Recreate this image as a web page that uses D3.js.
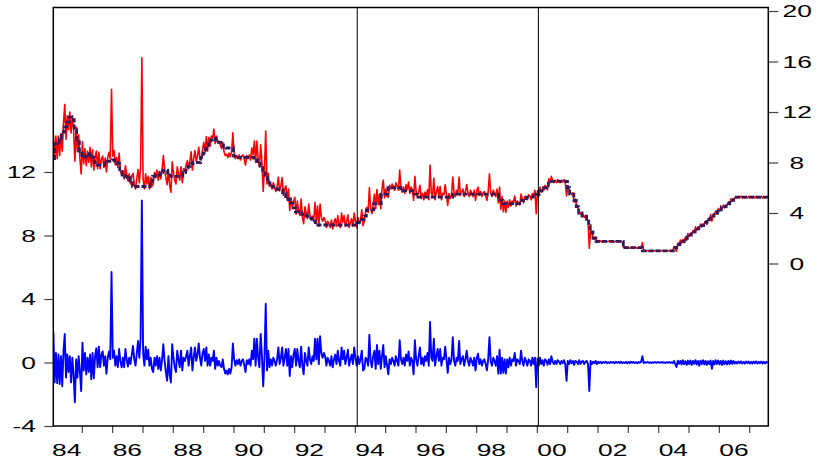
<!DOCTYPE html>
<html><head><meta charset="utf-8">
<script src="https://cdn.jsdelivr.net/npm/d3@7"></script>
<style>html,body{margin:0;padding:0;background:#fff;} svg{display:block;}</style>
</head><body>
<svg id="c" width="817" height="466"></svg>
<script>
// ---------- DATA ----------
// Residual (left axis), half-monthly observations starting 1984 (2nd half of Jan)
const resid = [
/*1984*/ 1.9,-1.25,0.6,-1.3,0.5,-1.35,0.4,-1.5,0.7,1.8,-0.95,0.5,-0.6,0.4,-1.25,0.3,-0.8,-2.5,0.2,-0.95,0.4,-0.6,-1.8,
/*1985*/ 1.25,-0.5,0.6,-0.75,0.3,-0.6,0.5,-1.05,0.6,-1.0,0.4,0.9,-0.3,1.0,-0.3,0.5,0.7,-0.2,0.4,-0.7,0.3,0.7,0.2,5.7,
/*1986*/ 0.3,0.75,-0.2,0.4,-0.3,0.85,0.1,-0.3,0.3,-0.3,0.85,0.2,-0.25,0.3,-0.1,0.5,1.05,0.2,-0.2,0.6,1.35,0.3,1.45,10.2,
/*1987*/ 0.6,-0.2,1.0,0.2,0.8,-0.2,0.3,-0.4,-0.6,0.3,-0.2,0.4,-0.4,0.3,-0.5,0.2,1.15,0.1,-0.6,-1.15,0.4,-0.8,-1.26,1.15,
/*1988*/ 0.3,-0.3,-0.6,0.75,0.2,-0.3,0.75,-0.5,0.3,0.1,0.4,0.75,-0.2,0.4,0.95,-0.5,0.3,0.95,0.1,0.5,1.2,0.3,-0.2,0.6,
/*1989*/ 0.85,0.1,0.95,-0.2,0.5,-0.2,0.3,0.1,0.75,-0.4,0.3,-0.2,0.1,-0.2,-0.3,0.2,-0.4,-0.7,-0.5,-0.75,-0.4,-0.7,-0.3,1.2,
/*1990*/ 0.2,-0.2,0.15,-0.1,0.2,-0.2,0.1,0.2,-0.15,-0.6,0.15,-0.1,0.2,-0.2,0.75,0.2,1.5,-0.2,1.5,0.3,-0.3,1.8,0.4,-1.5,
/*1991*/ 0.3,3.7,-0.5,0.75,-0.3,0.2,-0.2,0.3,0.1,-0.2,0.2,0.95,-0.1,0.3,0.95,-0.2,0.3,0.85,-0.2,0.85,-0.85,0.4,-0.3,0.5,
/*1992*/ 0.85,-0.2,0.85,0.1,-0.3,1.0,-0.2,-0.75,0.6,0.1,-0.2,0.95,0.2,-0.1,0.4,0.1,1.5,0.2,1.5,-0.1,1.65,0.6,0.3,0.6,
/*1993*/ 0.4,-0.2,0.3,0.1,-0.2,0.4,-0.3,0.2,0.5,-0.1,0.75,0.1,-0.2,0.95,0.2,0.75,-0.1,0.3,0.8,-0.2,0.2,0.5,-0.1,0.95,
/*1994*/ 0.3,-0.2,0.4,-0.1,0.2,0.75,-0.5,-0.4,0.3,0.2,-0.2,1.75,0.1,-0.3,0.4,0.75,-0.4,1.1,-0.1,0.75,-0.4,0.4,1.1,-0.3,
/*1995*/ 0.4,-0.2,-0.75,0.2,-0.1,0.3,0.1,-0.2,0.4,0.1,-0.2,1.4,0.2,-0.1,0.3,-0.2,0.5,0.1,0.7,-0.2,0.3,0.1,-0.75,1.4,
/*1996*/ 0.2,-0.2,0.4,0.95,-0.1,0.3,-0.2,0.4,0.1,0.6,-0.2,2.55,0.3,0.1,1.5,-0.2,0.4,0.85,0.1,0.85,-0.2,0.3,0.2,1.0,
/*1997*/ 0.2,-0.65,0.3,-0.1,0.2,1.6,0.1,-0.2,0.3,0.1,1.35,-0.1,0.2,0.4,-0.2,0.2,0.75,0.1,-0.2,0.3,0.1,-0.2,0.3,-0.5,
/*1998*/ 0.3,0.55,-0.1,0.2,-0.2,0.1,0.2,-0.1,-0.5,0.2,1.6,0.1,-0.2,0.3,0.1,-0.2,0.4,-0.7,0.8,-0.7,0.3,-0.65,0.2,-0.7,
/*1999*/ 0.2,-0.3,0.3,-0.2,0.2,0.1,0.6,-0.2,0.2,0.1,-0.1,0.75,0.1,-0.2,0.3,0.1,-0.2,0.2,0.1,-0.2,0.3,-0.1,0.3,-1.55,
/*2000*/ 0.25,-0.2,0.3,-0.1,0.15,-0.2,0.2,0.1,-0.15,0.2,-0.1,0.4,0.05,-0.1,0.1,-0.1,0.15,0.05,-0.1,0.1,-0.05,0.15,-0.1,-1.15,
/*2001*/ 0.1,-0.1,0.15,-0.05,0.1,-0.15,0.1,0.05,-0.1,0.15,-0.1,0.05,0.1,-0.1,0.05,0.1,-0.1,-1.8,0.1,-0.1,0.05,-0.05,0.1,-0.1,
/*2002*/ 0.05,-0.03,0.04,-0.05,0.03,-0.02,0.05,-0.04,0.02,-0.03,0.04,-0.02,0.03,-0.05,0.04,-0.02,0.03,-0.03,0.05,-0.04,0.02,-0.03,0.04,-0.05,
/*2003*/ 0.03,-0.04,0.05,-0.02,0.04,-0.03,0.02,-0.05,0.03,-0.02,0.05,0.4,-0.03,0.02,-0.02,0.03,-0.02,0.02,-0.03,0.02,-0.02,0.03,-0.02,0.02,
/*2004*/ 0.02,-0.02,0.03,-0.02,0.02,-0.03,0.02,-0.02,0.03,-0.02,0.02,-0.03,0.1,-0.1,-0.28,0.12,-0.08,0.1,-0.12,0.15,-0.1,0.08,-0.15,0.12,
/*2005*/ -0.1,0.12,-0.15,0.1,-0.08,0.15,-0.12,0.1,-0.2,0.12,-0.1,0.15,-0.12,0.1,-0.15,0.08,-0.1,0.12,-0.4,0.1,-0.12,0.15,-0.1,0.12,
/*2006*/ -0.12,0.1,-0.15,0.12,-0.1,0.08,-0.12,0.1,-0.1,0.12,-0.08,0.1,-0.06,0.05,-0.07,0.06,-0.05,0.07,-0.06,0.05,-0.07,0.06,-0.05,0.06,
/*2007*/ -0.06,0.05,-0.07,0.06,-0.05,0.07,-0.06,0.05,-0.05,0.06,-0.07,0.05,-0.06,0.05,-0.04
];
const firstPeriod = 1984;      // year of first observation
const periodsPerYear = 24;     // half-monthly
const firstOffset = 1.5;       // first obs is the 2nd half-month of Jan 1984

// Fitted (target) level, right axis: change dates (fractional years) and values
const targetDates = [
 1984.06,1984.10,1984.17,1984.25,1984.33,1984.42,1984.50,1984.58,1984.67,1984.75,1984.83,1984.92,
 1985.00,1985.08,1985.17,1985.25,1985.33,1985.42,1985.50,1985.75,1985.83,
 1986.00,1986.08,1986.17,1986.25,1986.33,1986.42,1986.50,1986.58,1986.67,
 1987.25,1987.33,1987.42,1987.58,1987.67,1987.83,1987.92,
 1988.33,1988.42,1988.50,1988.58,1988.67,1988.92,
 1989.00,1989.08,1989.17,1989.25,1989.33,1989.42,1989.50,1989.58,1989.67,1989.75,
 1990.00,1990.10,1990.67,1990.79,1990.88,1990.96,
 1991.04,1991.12,1991.20,1991.33,1991.50,1991.62,1991.72,1991.80,1991.88,1991.96,
 1992.04,1992.25,1992.40,1992.50,1992.58,1992.70,
 1994.09,1994.22,1994.30,1994.38,1994.62,1994.87,
 1995.09,1995.52,1995.96,1996.08,1997.23,
 1998.74,1998.79,1998.88,1999.50,1999.65,1999.88,
 2000.08,2000.22,2000.38,
 2001.01,2001.08,2001.22,2001.30,2001.38,2001.49,2001.64,2001.71,2001.76,2001.85,2001.95,
 2002.85,2003.48,
 2004.50,2004.61,2004.72,2004.86,2004.96,
 2005.09,2005.22,2005.34,2005.50,2005.61,2005.72,2005.84,2005.96,
 2006.08,2006.24,2006.36,2006.49
];
const targetValues = [
 8.3,9.5,9.6,9.9,10.4,10.8,11.2,11.6,11.4,10.6,9.8,8.9,
 8.4,8.5,8.6,8.7,8.4,8.0,7.8,7.95,8.1,
 8.2,8.0,7.9,7.3,7.0,6.9,6.8,6.4,6.1,
 6.5,6.9,7.0,7.2,7.4,7.0,6.9,
 7.2,7.4,7.7,7.9,8.0,8.4,
 8.75,9.1,9.5,9.8,9.9,9.8,9.6,9.4,9.25,9.15,
 8.5,8.4,8.2,7.95,7.6,7.2,
 6.8,6.4,6.1,5.9,5.85,5.6,5.3,5.05,4.8,4.4,
 4.1,3.9,3.75,3.6,3.35,3.05,
 3.25,3.5,3.75,4.25,4.75,5.5,
 6.0,5.75,5.5,5.25,5.5,
 5.25,5.0,4.75,5.0,5.25,5.5,
 5.75,6.0,6.5,
 6.0,5.5,5.0,4.5,4.0,3.75,3.5,3.0,2.5,2.0,1.75,
 1.25,1.0,
 1.25,1.5,1.75,2.0,2.25,
 2.5,2.75,3.0,3.25,3.5,3.75,4.0,4.25,
 4.5,4.75,5.0,5.25
];
const sampleStart = 1984.06, sampleEnd = 2007.63;
const breakDates = [1994.08, 2000.05];
const leftTicks = [-4, 0, 4, 8, 12];
const rightTicks = [0, 4, 8, 12, 16, 20];
const yearTicks = d3.range(1985, 2008);
const yearLabels = ["84","86","88","90","92","94","96","98","00","02","04","06"];
const yearLabelPos = [1984.5,1986.5,1988.5,1990.5,1992.5,1994.5,1996.5,1998.5,2000.5,2002.5,2004.5,2006.5];

// ---------- LAYOUT ----------
const P = {l: 53.3, r: 768.3, t: 7.5, b: 426};
const SX = 1.6;              // horizontal stretch of the text
const FONT = "'Liberation Sans', Arial, sans-serif";
const svg = d3.select("#c");

const x = d3.scaleLinear().domain([sampleStart, sampleEnd]).range([P.l, P.r]);
const yL = d3.scaleLinear().domain([-4, 12]).range([426, 172]);
const yR = d3.scaleLinear().domain([0, 20]).range([263.5, 11]);

const dates = resid.map((_, i) => firstPeriod + (i + firstOffset) / periodsPerYear);
const bis = d3.bisector(d => d).right;
const fittedAt = t => targetValues[Math.max(0, bis(targetDates, t) - 1)];
const actual = dates.map((t, i) => fittedAt(t) + resid[i]);

svg.append("defs").append("clipPath").attr("id", "pc")
  .append("rect").attr("x", P.l).attr("y", P.t).attr("width", P.r - P.l).attr("height", P.b - P.t);
const g = svg.append("g").attr("clip-path", "url(#pc)");

// residual (blue)
g.append("path")
  .attr("d", d3.line().x((d, i) => x(dates[i])).y(d => yL(d))(resid))
  .attr("fill", "none").attr("stroke", "#0000ff").attr("stroke-width", 1.9)
  .attr("stroke-linejoin", "round");

// actual (red)
g.append("path")
  .attr("d", d3.line().x((d, i) => x(dates[i])).y(d => yR(d))(actual))
  .attr("fill", "none").attr("stroke", "#ff0000").attr("stroke-width", 1.6)
  .attr("stroke-linejoin", "round");

// fitted (dashed, step)
const fitPts = targetDates.map((d, j) => [d, targetValues[j]]);
fitPts.push([sampleEnd, targetValues[targetValues.length - 1]]);
g.append("path")
  .attr("d", d3.line().curve(d3.curveStepAfter).x(d => x(d[0])).y(d => yR(d[1]))(fitPts))
  .attr("fill", "none").attr("stroke", "#331a5a").attr("stroke-width", 2.8)
  .attr("stroke-dasharray", "5,2");

// break lines
svg.selectAll("line.brk").data(breakDates).join("line").attr("class", "brk")
  .attr("x1", d => x(d)).attr("x2", d => x(d)).attr("y1", P.t).attr("y2", P.b)
  .attr("stroke", "#000").attr("stroke-width", 1);

// axes ticks
const axL = d3.axisLeft(yL).tickValues(leftTicks).tickSize(9).tickFormat("");
const axR = d3.axisRight(yR).tickValues(rightTicks).tickSize(10).tickFormat("");
const axB = d3.axisBottom(x).tickValues(yearTicks).tickSize(7).tickFormat("");
function styleAx(sel) { sel.select(".domain").remove(); sel.selectAll(".tick line").attr("stroke", "#444").attr("stroke-width", 1.2); }
svg.append("g").attr("transform", `translate(${P.l},0)`).call(axL).call(styleAx);
svg.append("g").attr("transform", `translate(${P.r},0)`).call(axR).call(styleAx);
svg.append("g").attr("transform", `translate(0,${P.b})`).call(axB).call(styleAx);

// frame
svg.append("rect").attr("x", P.l).attr("y", P.t).attr("width", P.r - P.l).attr("height", P.b - P.t)
  .attr("fill", "none").attr("stroke", "#000").attr("stroke-width", 1.5);

// labels (horizontally stretched text)
const lab = svg.append("g").attr("font-family", FONT).attr("font-size", 16.5).attr("fill", "#000");
lab.selectAll("text.l").data(leftTicks).join("text").attr("class", "l")
  .attr("transform", d => `translate(36,${yL(d) + 6}) scale(${SX},1)`)
  .attr("text-anchor", "end").text(d => d);
lab.selectAll("text.r").data(rightTicks).join("text").attr("class", "r")
  .attr("transform", d => `translate(${String(d).length > 1 ? 782.5 : 789.5},${yR(d) + 6}) scale(${SX},1)`)
  .attr("text-anchor", "start").text(d => d);
lab.selectAll("text.b").data(yearLabels).join("text").attr("class", "b")
  .attr("transform", (d, i) => `translate(${x(yearLabelPos[i])},456) scale(${SX},1)`)
  .attr("text-anchor", "middle").text(d => d);
</script>
</body></html>
